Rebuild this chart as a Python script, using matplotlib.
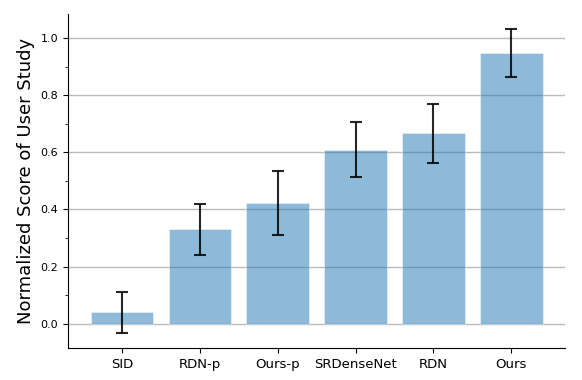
import matplotlib
matplotlib.use("Agg")
import matplotlib.pyplot as plt
from matplotlib.ticker import MultipleLocator

categories = ["SID", "RDN-p", "Ours-p", "SRDenseNet", "RDN", "Ours"]
scores = [0.040, 0.330, 0.423, 0.610, 0.667, 0.948]
errors = [0.072, 0.090, 0.113, 0.097, 0.103, 0.083]

fig = plt.figure(figsize=(5.82, 3.8), dpi=100)
ax = fig.add_axes([0.117, 0.084, 0.854, 0.879])
x = list(range(len(categories)))
ax.bar(x, scores, width=0.8, color="tab:blue", alpha=0.5, edgecolor="white", linewidth=0.6,
       yerr=errors, capsize=4.2, error_kw=dict(ecolor="black", elinewidth=1.5, capthick=1.5, alpha=0.85), zorder=3)
ax.set_xticks(x)
ax.set_xticklabels(categories, fontsize=9.5)
ax.yaxis.set_major_locator(MultipleLocator(0.2))
ax.yaxis.set_minor_locator(MultipleLocator(0.1))
ax.tick_params(axis="y", labelsize=8)
ax.set_ylabel("Normalized Score of User Study", fontsize=13)
ax.grid(axis="y", color="#bbbbbb", linewidth=1, zorder=0)
ax.spines["top"].set_visible(False)
ax.spines["right"].set_visible(False)
fig.savefig("out.png", dpi=100)
